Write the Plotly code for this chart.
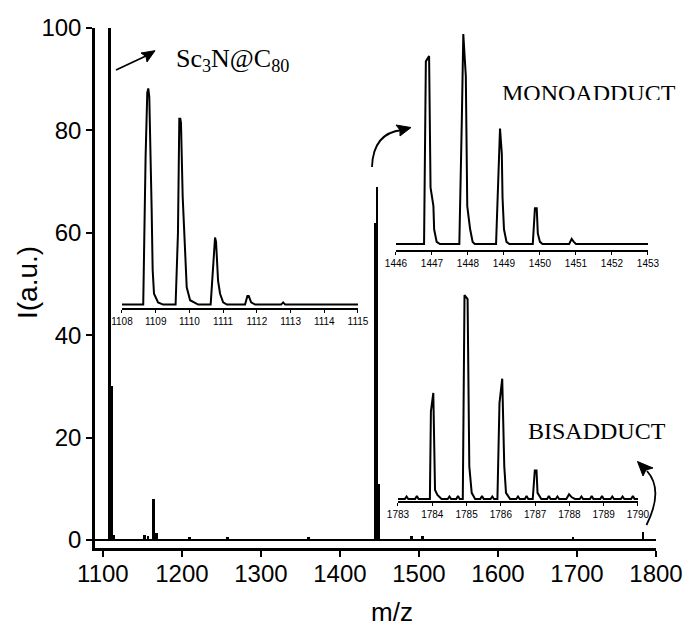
import plotly.graph_objects as go

# ---------------- data ----------------
# main survey spectrum (stick peaks)
main_mz = [1108, 1110.5, 1114, 1153, 1157, 1164.5, 1168, 1210, 1258, 1360,
           1444.5, 1446.8, 1449.5, 1491, 1504, 1695, 1783.5]
main_int = [100, 30, 1, 1, 0.8, 8, 1.3, 0.5, 0.5, 0.5,
            62, 69, 11, 0.7, 0.7, 0.5, 1.6]

# inset 1 : Sc3N@C80 isotope pattern
sc_mz = [1108.0, 1108.63, 1108.70, 1108.75, 1108.78, 1108.81, 1108.88, 1108.91, 1108.95,
         1109.07, 1109.22, 1109.59, 1109.66, 1109.70, 1109.73, 1109.75, 1109.80, 1109.87,
         1109.92, 1110.02, 1110.26, 1110.63, 1110.70, 1110.76, 1110.79, 1110.85, 1110.91,
         1111.00, 1111.11, 1111.65, 1111.72, 1111.76, 1111.83, 1111.95, 1112.72, 1112.78,
         1112.84, 1115.0]
sc_int = [0, 0, 68, 98, 100, 96, 44, 16, 5,
          1, 0, 0, 33, 86, 86, 84, 50, 24,
          8, 2, 0, 0, 15, 31, 29, 11, 5,
          1, 0, 0, 4, 4, 1, 0, 0, 1,
          0, 0]
sc_ticks = [1108, 1109, 1110, 1111, 1112, 1113, 1114, 1115]

# inset 2 : monoadduct isotope pattern
mono_mz = [1446.0, 1446.78, 1446.83, 1446.92, 1446.96, 1447.04, 1447.06, 1447.13, 1447.22,
           1447.76, 1447.83, 1447.87, 1447.94, 1447.98, 1448.06, 1448.13, 1448.19,
           1448.78, 1448.89, 1448.94, 1448.96, 1449.00, 1449.07, 1449.15,
           1449.80, 1449.86, 1449.91, 1449.94, 1450.00, 1450.07,
           1450.81, 1450.88, 1450.94, 1451.00, 1453.0]
mono_int = [0, 0, 87, 89.5, 27, 18, 7, 1, 0,
            0, 60, 100, 80, 18, 7, 1, 0,
            0, 55, 43, 22, 7, 1, 0,
            0, 17, 17, 5, 1, 0,
            0, 2.4, 1, 0, 0]
mono_ticks = [1446, 1447, 1448, 1449, 1450, 1451, 1452, 1453]

# inset 3 : bisadduct isotope pattern
bis_mz = [1783.0, 1783.2, 1783.25, 1783.3, 1783.5, 1783.55, 1783.6,
          1783.93, 1783.96, 1784.03, 1784.08, 1784.15, 1784.27,
          1784.45, 1784.5, 1784.55, 1784.7, 1784.75, 1784.8,
          1784.89, 1784.94, 1785.03, 1785.08, 1785.15, 1785.25,
          1785.4, 1785.45, 1785.5, 1785.7, 1785.75, 1785.8,
          1785.90, 1785.96, 1786.04, 1786.10, 1786.15, 1786.27,
          1786.45, 1786.5, 1786.55, 1786.7, 1786.75, 1786.8,
          1786.93, 1786.99, 1787.04, 1787.07, 1787.18,
          1787.35, 1787.4, 1787.45, 1787.6, 1787.65, 1787.7,
          1787.91, 1787.99, 1788.07, 1788.16,
          1788.3, 1788.35, 1788.4, 1788.6, 1788.65, 1788.7,
          1788.9, 1788.95, 1789.0, 1789.2, 1789.25, 1789.3,
          1789.5, 1789.55, 1789.6, 1789.8, 1789.85, 1789.9, 1790.0]
bis_int = [0, 0, 1.2, 0, 0, 1.5, 0,
           0, 43, 52, 4.4, 2, 0,
           0, 1.2, 0, 0, 1.5, 0,
           0, 100, 98, 16, 3, 0,
           0, 1.5, 0, 0, 1.2, 0,
           0, 47, 59, 16, 3, 0,
           0, 1.2, 0, 0, 1.5, 0,
           0, 14, 14, 3, 0,
           0, 1.5, 0, 0, 1.2, 0,
           0, 2.3, 0.8, 0,
           0, 1.2, 0, 0, 1.5, 0,
           0, 1.5, 0, 0, 1.2, 0,
           0, 1.2, 0, 0, 1.5, 0, 0]
bis_ticks = [1783, 1784, 1785, 1786, 1787, 1788, 1789, 1790]

main_yticks = [0, 20, 40, 60, 80, 100]
main_xticks = [1100, 1200, 1300, 1400, 1500, 1600, 1700, 1800]

# ---------------- geometry helpers ----------------
W, H = 686, 627
ML, MR, MT, MB = 95, 30, 28, 79
PW, PH = W - ML - MR, H - MT - MB
XR = [1090, 1800]
YR = [-1.56, 100]


def pp(x, y):
    """pixel -> paper fraction (plot area)"""
    return (x - ML) / PW, (H - MB - y) / PH


def path(cmds):
    out = []
    for c in cmds:
        if isinstance(c, str):
            out.append(c)
        else:
            a, b = pp(*c)
            out.append(f"{a:.5f},{b:.5f}")
    return " ".join(out)


def data_xy(x, y):
    return (XR[0] + (x - ML) * (XR[1] - XR[0]) / PW,
            YR[0] + (H - MB - y) * (YR[1] - YR[0]) / PH)


SANS = "Liberation Sans, Arial, sans-serif"
SERIF = "Liberation Serif, Times New Roman, serif"

fig = go.Figure()

fig.add_trace(go.Bar(x=main_mz, y=main_int, width=3.6,
                     marker=dict(color="black", line=dict(width=0)),
                     xaxis="x", yaxis="y", showlegend=False, hoverinfo="skip"))

line_style = dict(color="black", width=2)
fig.add_trace(go.Scatter(x=sc_mz, y=sc_int, mode="lines", line=line_style,
                         xaxis="x2", yaxis="y2", showlegend=False))
fig.add_trace(go.Scatter(x=mono_mz, y=mono_int, mode="lines", line=line_style,
                         xaxis="x3", yaxis="y3", showlegend=False))
fig.add_trace(go.Scatter(x=bis_mz, y=bis_int, mode="lines", line=line_style,
                         xaxis="x4", yaxis="y4", showlegend=False))

# MONOADDUCT label as a text trace (so its bottom can be masked as in the original)
mx, my = data_xy(502, 95)
fig.add_trace(go.Scatter(x=[mx], y=[my], mode="text", text=["MONOADDUCT"],
                         textposition="middle right",
                         textfont=dict(family=SERIF, size=24, color="black"),
                         xaxis="x", yaxis="y", cliponaxis=False,
                         showlegend=False, hoverinfo="skip"))

main_axis = dict(showline=True, linecolor="black", linewidth=2.5, ticks="outside",
                 ticklen=6, tickwidth=2, tickcolor="black", showgrid=False,
                 automargin=False,
                 tickfont=dict(family=SANS, size=24, color="black"))


def inset_x(dom, anchor, rng, ticks):
    return dict(domain=dom, anchor=anchor, range=rng, tickvals=ticks,
                showline=True, linecolor="black", linewidth=1.5, ticks="outside",
                ticklen=3, tickwidth=1.2, tickcolor="black", showgrid=False,
                zeroline=False, automargin=False,
                tickfont=dict(family=SANS, size=10, color="black"))


def inset_y(dom, anchor, rng):
    return dict(domain=dom, anchor=anchor, range=rng, visible=False,
                showgrid=False, zeroline=False, automargin=False)


fig.update_layout(
    width=W, height=H,
    margin=dict(l=ML, r=MR, t=MT, b=MB, autoexpand=False),
    paper_bgcolor="white", plot_bgcolor="rgba(0,0,0,0)",
    bargap=0,
    xaxis=dict(domain=[0, 1], range=XR, tickvals=main_xticks, zeroline=False,
               ticklabelstandoff=-4, **main_axis),
    yaxis=dict(domain=[0, 1], range=YR, tickvals=main_yticks, zeroline=False, **main_axis),
    xaxis2=inset_x([0.0481, 0.4688], "y2", [1108, 1115], sc_ticks),
    yaxis2=inset_y([0.4615, 0.9], "x2", [-1.6, 103.9]),
    xaxis3=inset_x([0.5365, 0.9857], "y3", [1446, 1453], mono_ticks),
    yaxis3=inset_y([0.5731, 1.0], "x3", [-2.86, 102.9]),
    xaxis4=inset_x([0.5401, 0.9679], "y4", [1783, 1790], bis_ticks),
    yaxis4=inset_y([0.0904, 0.5154], "x4", [-1, 107.4]),
)

annotations = []
ax_, ay_ = pp(27, 283)
annotations.append(dict(x=ax_, y=ay_, xref="paper", yref="paper", text="I(a.u.)",
                        textangle=-90, showarrow=False, xanchor="center", yanchor="middle",
                        font=dict(family=SANS, size=28, color="black")))
ax_, ay_ = pp(392, 612)
annotations.append(dict(x=ax_, y=ay_, xref="paper", yref="paper", text="m/z",
                        showarrow=False, xanchor="center", yanchor="middle",
                        font=dict(family=SANS, size=26, color="black")))
ax_, ay_ = pp(174, 60)
annotations.append(dict(x=ax_, y=ay_, xref="paper", yref="paper", xanchor="left",
                        yanchor="middle", text="Sc<sub>3</sub>N@C<sub>80</sub>",
                        showarrow=False, font=dict(family=SERIF, size=26, color="black")))
ax_, ay_ = pp(526, 431)
annotations.append(dict(x=ax_, y=ay_, xref="paper", yref="paper", xanchor="left",
                        yanchor="middle", text="BISADDUCT",
                        showarrow=False, font=dict(family=SERIF, size=24, color="black")))
fig.update_layout(annotations=annotations)

shapes = []
# baseline at zero intensity of the survey spectrum
shapes.append(dict(type="line", xref="paper", yref="y", x0=0, x1=1, y0=0, y1=0,
                   line=dict(color="black", width=2), layer="below"))
# mask clipping the bottom of MONOADDUCT
x0, y0 = pp(492, 110)
x1, y1 = pp(686, 100)
shapes.append(dict(type="rect", xref="paper", yref="paper", x0=x0, y0=y0, x1=x1, y1=y1,
                   fillcolor="white", line=dict(width=0), layer="above"))
# straight arrow to Sc3N@C80
shapes.append(dict(type="path", xref="paper", yref="paper", layer="above",
                   path=path(["M", (116, 70), "L", (148, 55)]),
                   line=dict(color="black", width=1.8)))
shapes.append(dict(type="path", xref="paper", yref="paper", layer="above",
                   path=path(["M", (155, 50.7), "L", (141, 53), "L", (146, 56.5),
                              "L", (147, 62), "Z"]),
                   fillcolor="black", line=dict(color="black", width=1)))
# curved arrow to monoadduct inset
shapes.append(dict(type="path", xref="paper", yref="paper", layer="above",
                   path=path(["M", (372, 167), "Q", (373, 133), (402, 130)]),
                   line=dict(color="black", width=1.8)))
shapes.append(dict(type="path", xref="paper", yref="paper", layer="above",
                   path=path(["M", (411, 127.5), "L", (396, 125), "L", (400, 130),
                              "L", (400, 136), "Z"]),
                   fillcolor="black", line=dict(color="black", width=1)))
# curved arrow to bisadduct inset
shapes.append(dict(type="path", xref="paper", yref="paper", layer="above",
                   path=path(["M", (646.5, 525), "Q", (664, 490), (647, 471)]),
                   line=dict(color="black", width=1.8)))
shapes.append(dict(type="path", xref="paper", yref="paper", layer="above",
                   path=path(["M", (637.5, 461.5), "L", (643, 476), "L", (646, 470),
                              "L", (653, 468), "Z"]),
                   fillcolor="black", line=dict(color="black", width=1)))
fig.update_layout(shapes=shapes)

fig.write_html("out.html")
